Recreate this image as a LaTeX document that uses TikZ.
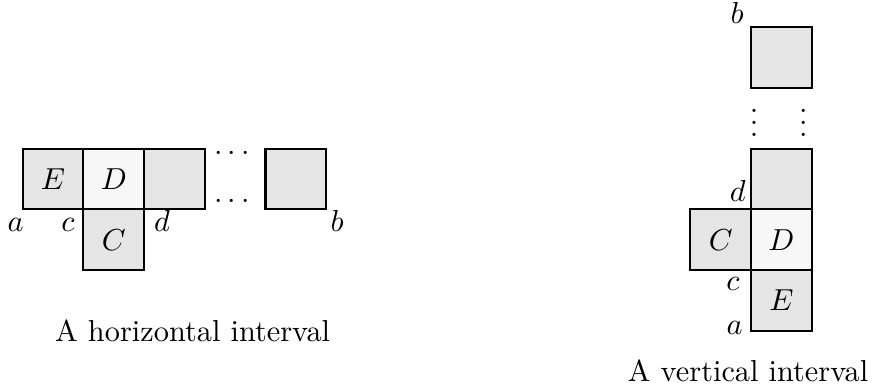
\documentclass[tikz,border=0pt]{standalone}
\begin{document}
\begin{tikzpicture}[x=20pt, y=20pt,
    cell/.style={rectangle, draw, line width=0.7pt, fill=black!10, minimum size=20pt, inner sep=0pt},
    midcell/.style={cell, fill=black!3},
    lbl/.style={anchor=base, inner sep=0pt}]
    \useasboundingbox (-0.374,-2.993) rectangle (14.008,3.448);

    % horizontal interval
    \node[cell] (hE) at (0.5,0.5) {$E$};
    \node[midcell] (hD) at (1.5,0.5) {$D$};
    \node[cell] (hC) at (1.5,-0.5) {$C$};
    \node[cell] (hF) at (2.5,0.5) {};
    \node[cell] (hL) at (4.5,0.5) {};

    \node[inner sep=0pt] (htop) at (3.45,0.91) {$\cdots$};
    \node[inner sep=0pt] (hbot) at (3.45,0.125) {$\cdots$};

    % endpoints
    \node[lbl] (ha) at (-0.116,-0.37) {$a$};
    \node[lbl] (hc) at (0.746,-0.37) {$c$};
    \node[lbl] (hd) at (2.295,-0.37) {$d$};
    \node[lbl] (hb) at (5.18,-0.37) {$b$};

    \node[lbl] (hcap) at (2.8,-2.18) {A horizontal interval};

    % vertical interval
    \node[cell] (vT) at (12.5,2.5) {};
    \node[cell] (vF) at (12.5,0.5) {};
    \node[midcell] (vD) at (12.5,-0.5) {$D$};
    \node[cell] (vC) at (11.5,-0.5) {$C$};
    \node[cell] (vE) at (12.5,-1.5) {$E$};

    \node[inner sep=0pt] (vleft) at (12.05,1.575) {$\vdots$};
    \node[inner sep=0pt] (vright) at (12.86,1.575) {$\vdots$};

    % endpoints
    \node[lbl] (vb) at (11.77,3.064) {$b$};
    \node[lbl] (vd) at (11.78,0.125) {$d$};
    \node[lbl] (vc) at (11.70,-1.33) {$c$};
    \node[lbl] (va) at (11.73,-2.07) {$a$};

    \node[lbl] (vcap) at (11.95,-2.845) {A vertical interval};
\end{tikzpicture}
\end{document}
